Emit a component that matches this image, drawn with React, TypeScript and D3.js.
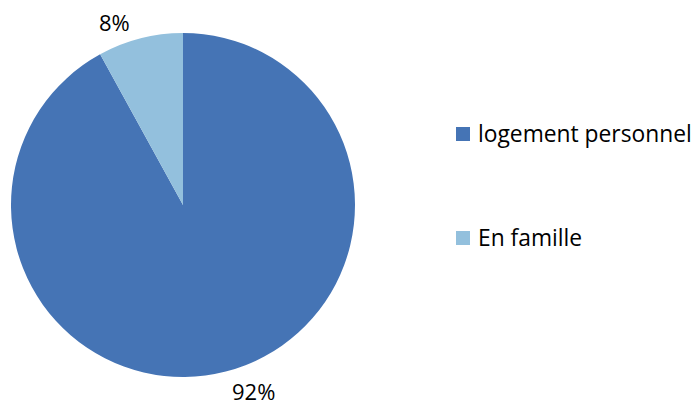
import React from 'react'
import * as d3 from 'd3'

const categories = ['logement personnel', 'En famille']
const values = [92, 8]
const colors = ['#4574B5', '#93C0DD']

const width = 697
const height = 406
const cx = 183
const cy = 205
const radius = 172

export default function App() {
  const pie = d3.pie<number>().sort(null).value(d => d)
  const arcs = pie(values)
  const arc = d3.arc<d3.PieArcDatum<number>>().innerRadius(0).outerRadius(radius)

  const font = '"Open Sans", "Liberation Sans", sans-serif'

  // labels sit outside the pie, nudged a little counter-clockwise like Excel does
  const shift = (-6 * Math.PI) / 180
  const labelArc = d3.arc<d3.PieArcDatum<number>>().innerRadius(200).outerRadius(200)

  return (
    <svg width={width} height={height} style={{ position: 'absolute', left: 0, top: 0 }}>
      <rect width={width} height={height} fill="#fff" />
      <g transform={`translate(${cx},${cy})`}>
        {arcs.map((a, i) => (
          <path key={categories[i]} d={arc(a) ?? ''} fill={colors[i]} />
        ))}
        {arcs.map((a, i) => {
          const [x, y] = labelArc.centroid({ ...a, startAngle: a.startAngle + shift, endAngle: a.endAngle + shift })
          // keep the bottom label inside the frame
          const ly = Math.min(y + 4, height - cy - 15)
          return (
            <text
              key={'l' + i}
              x={x + 1}
              y={ly}
              textAnchor="middle"
              dominantBaseline="central"
              fontFamily={font}
              fontSize={22}
              fill="#000"
            >
              {values[i]}%
            </text>
          )
        })}
      </g>
      <g fontFamily={font} fontSize={22.8} fill="#000">
        {categories.map((c, i) => (
          <g key={c} transform={`translate(456,${127 + i * 104})`}>
            <rect width={14} height={14} fill={colors[i]} />
            <text x={22} y={15} fill="#000">
              {c}
            </text>
          </g>
        ))}
      </g>
    </svg>
  )
}
